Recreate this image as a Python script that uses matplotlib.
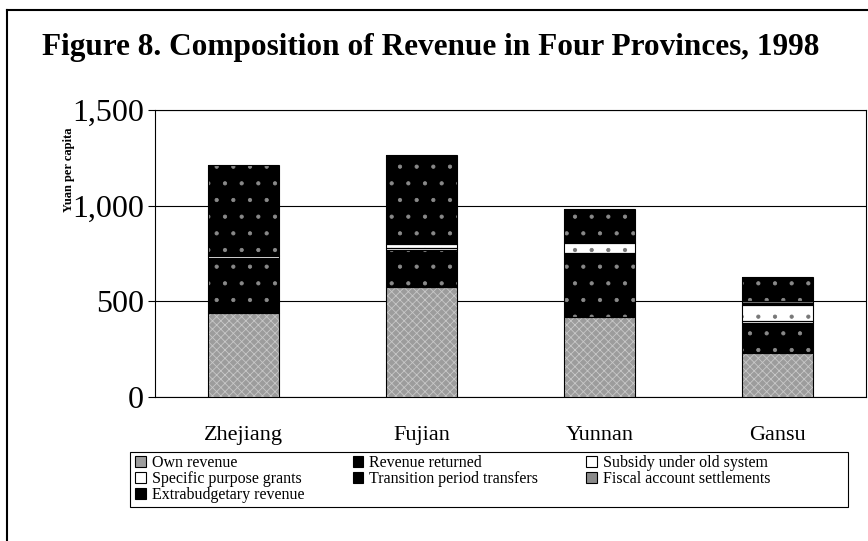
import matplotlib
matplotlib.use('Agg')
import matplotlib.pyplot as plt
from matplotlib.patches import Patch, Rectangle
from matplotlib.lines import Line2D

provinces = ['Zhejiang', 'Fujian', 'Yunnan', 'Gansu']
own_revenue = [440, 575, 418, 230]
revenue_returned = [285, 193, 327, 157]
subsidy_old_system = [10, 10, 10, 10]
specific_purpose_grants = [8, 20, 50, 83]
transition_transfers = [0, 5, 5, 12]
fiscal_settlements = [0, 0, 5, 10]
extrabudgetary = [470, 462, 168, 125]
yticks = [0, 500, 1000, 1500]
ytick_labels = ['0', '500', '1,000', '1,500']

series = [
    ('Own revenue', own_revenue, '#9c9c9c', 'xxxx', '#c8c8c8'),
    ('Revenue returned', revenue_returned, 'black', '.', '#8a8a8a'),
    ('Subsidy under old system', subsidy_old_system, 'white', None, 'white'),
    ('Specific purpose grants', specific_purpose_grants, 'white', '.', '#777777'),
    ('Transition period transfers', transition_transfers, 'black', None, 'black'),
    ('Fiscal account settlements', fiscal_settlements, '#8a8a8a', None, 'black'),
    ('Extrabudgetary revenue', extrabudgetary, 'black', '.', '#8a8a8a'),
]

plt.rcParams['font.family'] = ['Liberation Serif', 'DejaVu Serif']
plt.rcParams['hatch.linewidth'] = 0.6

W, H = 868, 541
fig = plt.figure(figsize=(W / 100, H / 100), dpi=100)
ax = fig.add_axes([155 / W, 1 - 397 / H, 711 / W, 287 / H])

x = list(range(len(provinces)))
width = 0.40
bottom = [0] * len(provinces)
handles = {}
for name, vals, fc, hatch, hc in series:
    ax.bar(x, vals, width, bottom=bottom, color=fc, edgecolor=hc,
           hatch=hatch, linewidth=0, zorder=3)
    ax.bar(x, vals, width, bottom=bottom, fill=False, edgecolor='black',
           linewidth=0.8, zorder=4)
    handles[name] = Patch(facecolor=fc, edgecolor='black', linewidth=0.8)
    bottom = [b + v for b, v in zip(bottom, vals)]

ax.set_xlim(-0.5, len(provinces) - 0.5)
ax.set_ylim(0, 1500)
ax.set_yticks(yticks)
ax.set_yticklabels(ytick_labels, fontsize=23)
ax.set_xticks(x)
ax.set_xticklabels(provinces, fontsize=16)
ax.tick_params(axis='x', length=0, pad=21)
ax.tick_params(axis='y', length=5, width=0.8, direction='out', pad=3)
ax.yaxis.grid(True, color='black', linewidth=0.8, zorder=0)
ax.set_axisbelow(True)
for s in ax.spines.values():
    s.set_linewidth(0.8)
    s.set_color('black')

fig.text(69 / W, 1 - 170 / H, 'Yuan per capita', rotation=90, fontsize=9,
         fontweight='bold', ha='center', va='center')

fig.text(431 / W, 1 - 47 / H, 'Figure 8. Composition of Revenue in Four Provinces, 1998',
         fontsize=22.5, fontweight='bold', ha='center', va='center')

order = ['Own revenue', 'Specific purpose grants', 'Extrabudgetary revenue',
         'Revenue returned', 'Transition period transfers',
         'Subsidy under old system', 'Fiscal account settlements']
leg = fig.legend([handles[n] for n in order], order, ncol=3,
                 loc='upper left', bbox_to_anchor=(133 / W, 1 - 453 / H),
                 fontsize=11.5, frameon=False,
                 handlelength=0.65, handleheight=0.65, handletextpad=0.4,
                 columnspacing=3.0, labelspacing=0.0, borderpad=0.15,
                 borderaxespad=0)

fig.add_artist(Rectangle((130 / W, 1 - 507 / H), 718 / W, 55 / H,
                         transform=fig.transFigure, fill=False,
                         edgecolor='black', linewidth=0.8))

fig.add_artist(Line2D([7 / W, 1.0], [1 - 10 / H, 1 - 10 / H], color='black', linewidth=1.5))
fig.add_artist(Line2D([7 / W, 7 / W], [1 - 10 / H, 0], color='black', linewidth=1.5))

fig.savefig('out.png', dpi=100)
